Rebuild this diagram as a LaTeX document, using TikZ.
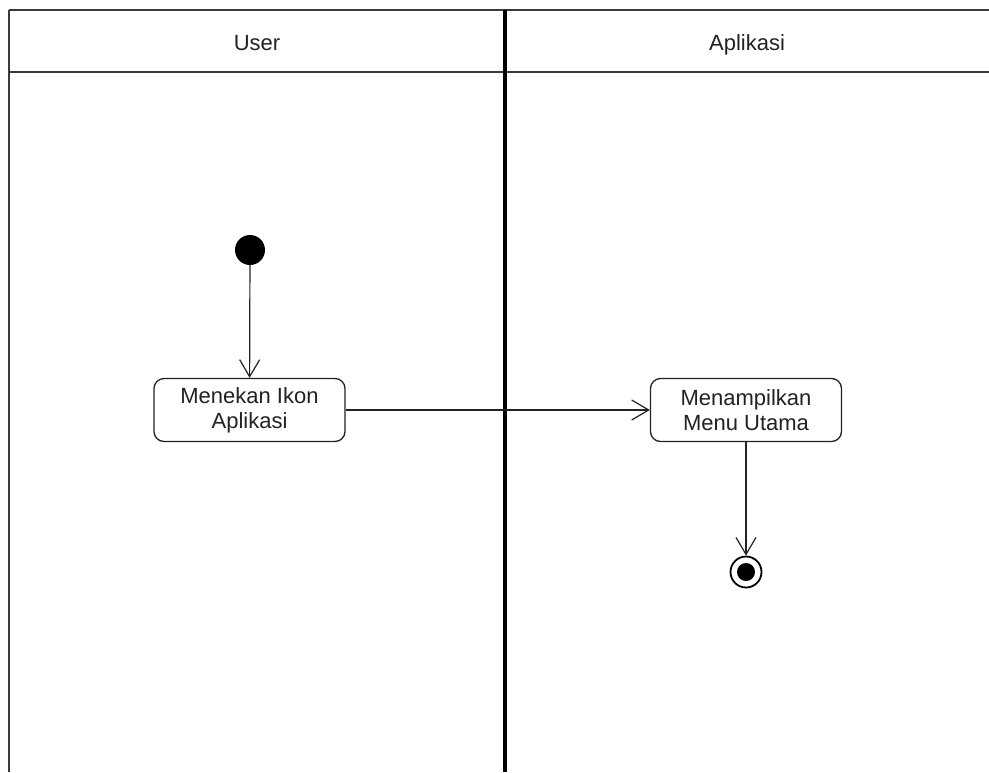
\documentclass[tikz,border=0pt]{standalone}
\usepackage{fontspec}
\setmainfont{Liberation Sans}
\usetikzlibrary{arrows.meta}
\definecolor{ink}{HTML}{222222}
\definecolor{frame}{HTML}{3A3A3A}
\tikzset{
  lanerule/.style={draw=frame, line width=1.3pt},
  lanedivider/.style={draw=black, line width=3.5pt},
  lanetitle/.style={text=ink, font=\fontsize{22}{25}\selectfont, anchor=base, inner sep=0pt},
  actionbox/.style={draw=ink, line width=1.3pt, rounded corners=10pt,
    minimum width=191pt, minimum height=63pt, align=center, text=ink,
    font=\fontsize{22}{25}\selectfont, inner sep=0pt},
  startnode/.style={circle, fill=black, minimum size=30pt, inner sep=0pt},
  endnode/.style={circle, draw=black, line width=1.8pt, minimum size=31pt, inner sep=0pt,
    path picture={\fill[black] (path picture bounding box.center) circle (9pt);}},
  flow/.style={draw=ink, line width=1.2pt,
    -{Straight Barb[length=17pt, width=20pt, line width=1.2pt]}},
}
\begin{document}
\begin{tikzpicture}[x=1pt, y=-1pt]
  \useasboundingbox[fill=white] (0,0) rectangle (989,772);

  % swimlane frame
  \draw[lanerule] (9,10) -- (989,10);
  \draw[lanerule] (9,72) -- (989,72);
  \draw[lanerule] (9,10) -- (9,772);
  \draw[lanedivider] (505,10) -- (505,772);

  % lane titles
  \node[lanetitle] (userlane) at (257,50) {User};
  \node[lanetitle] (applane) at (747,50) {Aplikasi};

  % activity nodes
  \node[startnode] (start) at (250,250) {};
  \node[actionbox] (tap) at (249.5,410) {Menekan Ikon\\Aplikasi};
  \node[actionbox] (menu) at (746,410) {Menampilkan\\Menu Utama};
  \node[endnode] (end) at (746,572) {};

  % control flow
  \draw[flow] (start) -- (tap);
  \draw[flow] (tap) -- (menu);
  \draw[flow] (menu) -- (end);
\end{tikzpicture}
\end{document}
